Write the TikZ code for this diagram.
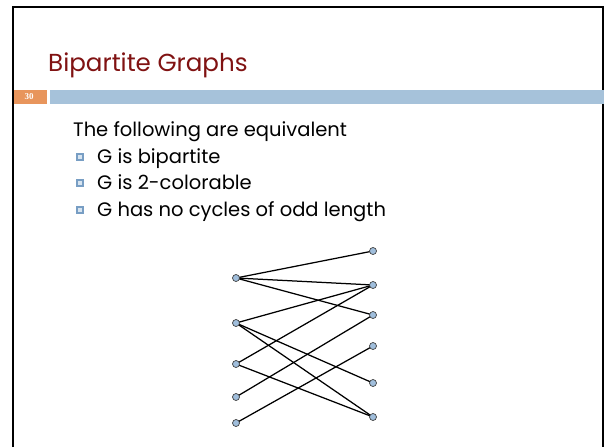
\documentclass[tikz,border=0pt]{standalone}
\usepackage{fontspec}
\setmainfont{Poppins}
\newfontfamily\numfont{Liberation Serif}
\definecolor{titlered}{RGB}{128,18,18}
\definecolor{barorange}{RGB}{232,149,92}
\definecolor{barblue}{RGB}{166,194,218}
\definecolor{vfill}{RGB}{160,190,220}
\definecolor{bulletblue}{RGB}{120,158,196}
\definecolor{bulletin}{RGB}{215,228,240}
\begin{document}
\begin{tikzpicture}[x=1pt,y=-1pt,
  vertex/.style={circle,draw=black!75,fill=vfill,line width=0.7pt,inner sep=0pt,minimum size=7pt},
  edge/.style={line width=1.25pt,black},
  bodytext/.style={anchor=base west,inner sep=0pt,font=\fontsize{19.5}{23}\selectfont},
  bulletbox/.style={draw=bulletblue,line width=2pt,fill=bulletin,minimum size=6.5pt,inner sep=0pt}]
\useasboundingbox (0,0) rectangle (604,447);
% frame
\draw[line width=2.2pt,black] (13,447) -- (13,7) -- (603,7) -- (603,447);
% bars
\fill[barorange] (14,90) rectangle (47,104);
\fill[barblue] (50,90) rectangle (604,104);
\node[text=white,font=\numfont\fontsize{9}{10}\bfseries\selectfont] (num) at (29,97) {30};
% title
\node[anchor=base west,inner sep=0pt,text=titlered,font=\fontsize{24.6}{29}\selectfont] (title) at (48,71) {Bipartite Graphs};
% body
\node[bodytext] (t0) at (73,136) {The following are equivalent};
\node[bulletbox] (b1) at (80,157) {};
\node[bodytext] (t1) at (97,163) {G is bipartite};
\node[bulletbox] (b2) at (80,183) {};
\node[bodytext] (t2) at (97,189) {G is 2-colorable};
\node[bulletbox] (b3) at (80,210) {};
\node[bodytext] (t3) at (97,216) {G has no cycles of odd length};
% graph
\coordinate (L1) at (236,278);
\coordinate (L2) at (236,323);
\coordinate (L3) at (236,364);
\coordinate (L4) at (236,397);
\coordinate (L5) at (236,423);
\coordinate (R1) at (373,251);
\coordinate (R2) at (373,285);
\coordinate (R3) at (373,315);
\coordinate (R4) at (373,346);
\coordinate (R5) at (373,383);
\coordinate (R6) at (373,417);
\foreach \a/\b in {L1/R1,L1/R2,L1/R3,L2/R2,L2/R5,L2/R6,L3/R2,L3/R6,L4/R3,L5/R4}
  \draw[edge] (\a) -- (\b);
\foreach \v in {L1,L2,L3,L4,L5,R1,R2,R3,R4,R5,R6}
  \node[vertex] (n\v) at (\v) {};
\end{tikzpicture}
\end{document}
